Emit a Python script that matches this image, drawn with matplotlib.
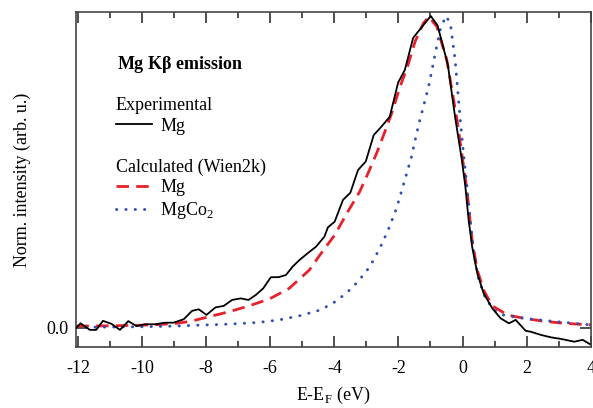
import numpy as np
import matplotlib
matplotlib.use('Agg')
import matplotlib.pyplot as plt

plt.rcParams['font.family'] = ['Liberation Serif', 'DejaVu Serif']
plt.rcParams['mathtext.fontset'] = 'custom'
plt.rcParams['mathtext.rm'] = 'Liberation Serif'

# Experimental Mg K-beta emission
e_exp = [-12.05, -11.92, -11.63, -11.43, -11.22, -10.95, -10.69, -10.43, -10.17, -9.91,
         -9.59, -9.28, -9.02, -8.70, -8.44, -8.23, -7.99, -7.71, -7.45, -7.19,
         -6.92, -6.68, -6.45, -6.22, -5.98, -5.74, -5.51, -5.30, -5.09, -4.83,
         -4.57, -4.31, -4.20, -3.99, -3.73, -3.50, -3.26, -3.02, -2.77, -2.53,
         -2.27, -2.01, -1.80, -1.54, -1.22, -0.99, -0.78, -0.46, -0.23, -0.02,
         0.09, 0.19, 0.30, 0.46, 0.66, 0.93, 1.19, 1.45, 1.66, 1.97,
         2.13, 2.44, 2.76, 3.07, 3.49, 3.75, 3.96]
i_exp = [0.000, 0.014, -0.007, -0.007, 0.022, 0.012, -0.007, 0.021, 0.005, 0.011,
         0.011, 0.016, 0.016, 0.027, 0.054, 0.059, 0.041, 0.065, 0.070, 0.089,
         0.094, 0.089, 0.105, 0.126, 0.162, 0.162, 0.169, 0.196, 0.217, 0.239,
         0.260, 0.292, 0.322, 0.340, 0.410, 0.433, 0.506, 0.533, 0.618, 0.645,
         0.677, 0.786, 0.827, 0.930, 0.971, 1.000, 0.970, 0.845, 0.675, 0.538,
         0.452, 0.346, 0.260, 0.175, 0.110, 0.062, 0.030, 0.014, 0.025, -0.010,
         -0.013, -0.023, -0.031, -0.036, -0.045, -0.039, -0.052]

# Calculated (Wien2k) Mg
e_mg = [-12.05, -11.0, -10.0, -9.5, -9.0, -8.5, -7.92, -7.29, -6.66, -6.03,
        -5.41, -4.78, -4.41, -3.99, -3.58, -3.21, -2.95, -2.68, -2.48, -2.21,
        -1.95, -1.72, -1.48, -1.22, -1.05, -0.80, -0.49, -0.17, 0.14, 0.30,
        0.46, 0.66, 0.93, 1.40, 1.92, 2.44, 2.97, 3.49, 4.01]
i_mg = [0.005, 0.006, 0.008, 0.010, 0.013, 0.020, 0.035, 0.051, 0.070, 0.092,
        0.126, 0.185, 0.239, 0.297, 0.372, 0.436, 0.495, 0.560, 0.613, 0.688,
        0.773, 0.837, 0.918, 0.977, 0.998, 0.966, 0.859, 0.666, 0.440, 0.280,
        0.185, 0.120, 0.070, 0.041, 0.030, 0.022, 0.016, 0.012, 0.009]

# Calculated (Wien2k) MgCo2
e_mgco2 = [-12.05, -11.0, -10.0, -9.0, -8.23, -7.60, -6.98, -6.35, -5.72, -5.09,
           -4.46, -4.05, -3.63, -3.26, -2.89, -2.58, -2.32, -2.06, -1.80, -1.59,
           -1.43, -1.33, -1.06, -0.85, -0.70, -0.52, -0.38, -0.23, -0.07, 0.03,
           0.14, 0.24, 0.35, 0.51, 0.72, 0.98, 1.24, 1.92, 2.97, 4.01]
i_mgco2 = [0.001, 0.002, 0.003, 0.005, 0.008, 0.010, 0.013, 0.017, 0.025, 0.038,
           0.056, 0.078, 0.110, 0.148, 0.196, 0.255, 0.313, 0.383, 0.474, 0.549,
           0.624, 0.666, 0.773, 0.880, 0.955, 1.000, 0.977, 0.859, 0.666, 0.560,
           0.452, 0.346, 0.239, 0.153, 0.094, 0.057, 0.041, 0.030, 0.019, 0.009]

xticks = [-12, -10, -8, -6, -4, -2, 0, 2, 4]

fig = plt.figure(figsize=(5.93, 4.08), dpi=100)
ax = fig.add_axes([0.1277, 0.1495, 0.8684, 0.8204])

l1, = ax.plot(e_exp, i_exp, color='black', lw=1.3, zorder=3)
l2, = ax.plot(e_mg, i_mg, color='#e8202a', lw=2.0, linestyle=(0, (4.5, 2.6)), zorder=2)
l3, = ax.plot(e_mgco2, i_mgco2, color='#2e4fb5', lw=2.1, linestyle=(0, (0.1, 3.1)),
              dash_capstyle='round', zorder=2)

ax.set_xlim(-12.07, 4.0)
ax.set_ylim(-0.062, 1.012)

ax.set_xticks(xticks)
ax.set_xticklabels([str(t) for t in xticks])
ax.set_xticks(np.arange(-12, 5, 1), minor=True)
ax.set_yticks([0])
ax.set_yticklabels(['0.0'])
ax.tick_params(axis='x', which='major', direction='in', top=True, length=8, width=1.2,
               labelsize=13, pad=9, color='#333333')
ax.tick_params(axis='x', which='minor', direction='in', top=True, length=4, width=1.2,
               color='#333333')
ax.tick_params(axis='y', direction='in', right=True, length=8, width=1.2,
               labelsize=13, pad=5, color='#333333')
for s in ax.spines.values():
    s.set_linewidth(1.2)
    s.set_color('#444444')

ax.set_xlabel(r'E-E$_\mathregular{F}$ (eV)', fontsize=13, labelpad=6)
ax.set_ylabel('Norm. intensity (arb. u.)', fontsize=13, labelpad=11)

ax.text(0.080, 0.843, r'Mg K$\mathregular{\beta}$ emission', transform=ax.transAxes,
        fontsize=13, fontweight='bold', va='center', ha='left')

leg1 = ax.legend([l1], ['Mg'], title='Experimental', loc='upper left',
                 bbox_to_anchor=(0.078, 0.747), frameon=False, fontsize=13,
                 title_fontsize=13, alignment='left', borderpad=0, borderaxespad=0,
                 handlelength=2.0, handletextpad=0.45, labelspacing=0.2)
ax.add_artist(leg1)
ax.legend([l2, l3], ['Mg', r'MgCo$_\mathregular{2}$'], title='Calculated (Wien2k)',
          loc='upper left', bbox_to_anchor=(0.078, 0.563), frameon=False, fontsize=13,
          title_fontsize=13, alignment='left', borderpad=0, borderaxespad=0,
          handlelength=2.0, handletextpad=0.45, labelspacing=0.2)

fig.savefig('out.png', dpi=100)
